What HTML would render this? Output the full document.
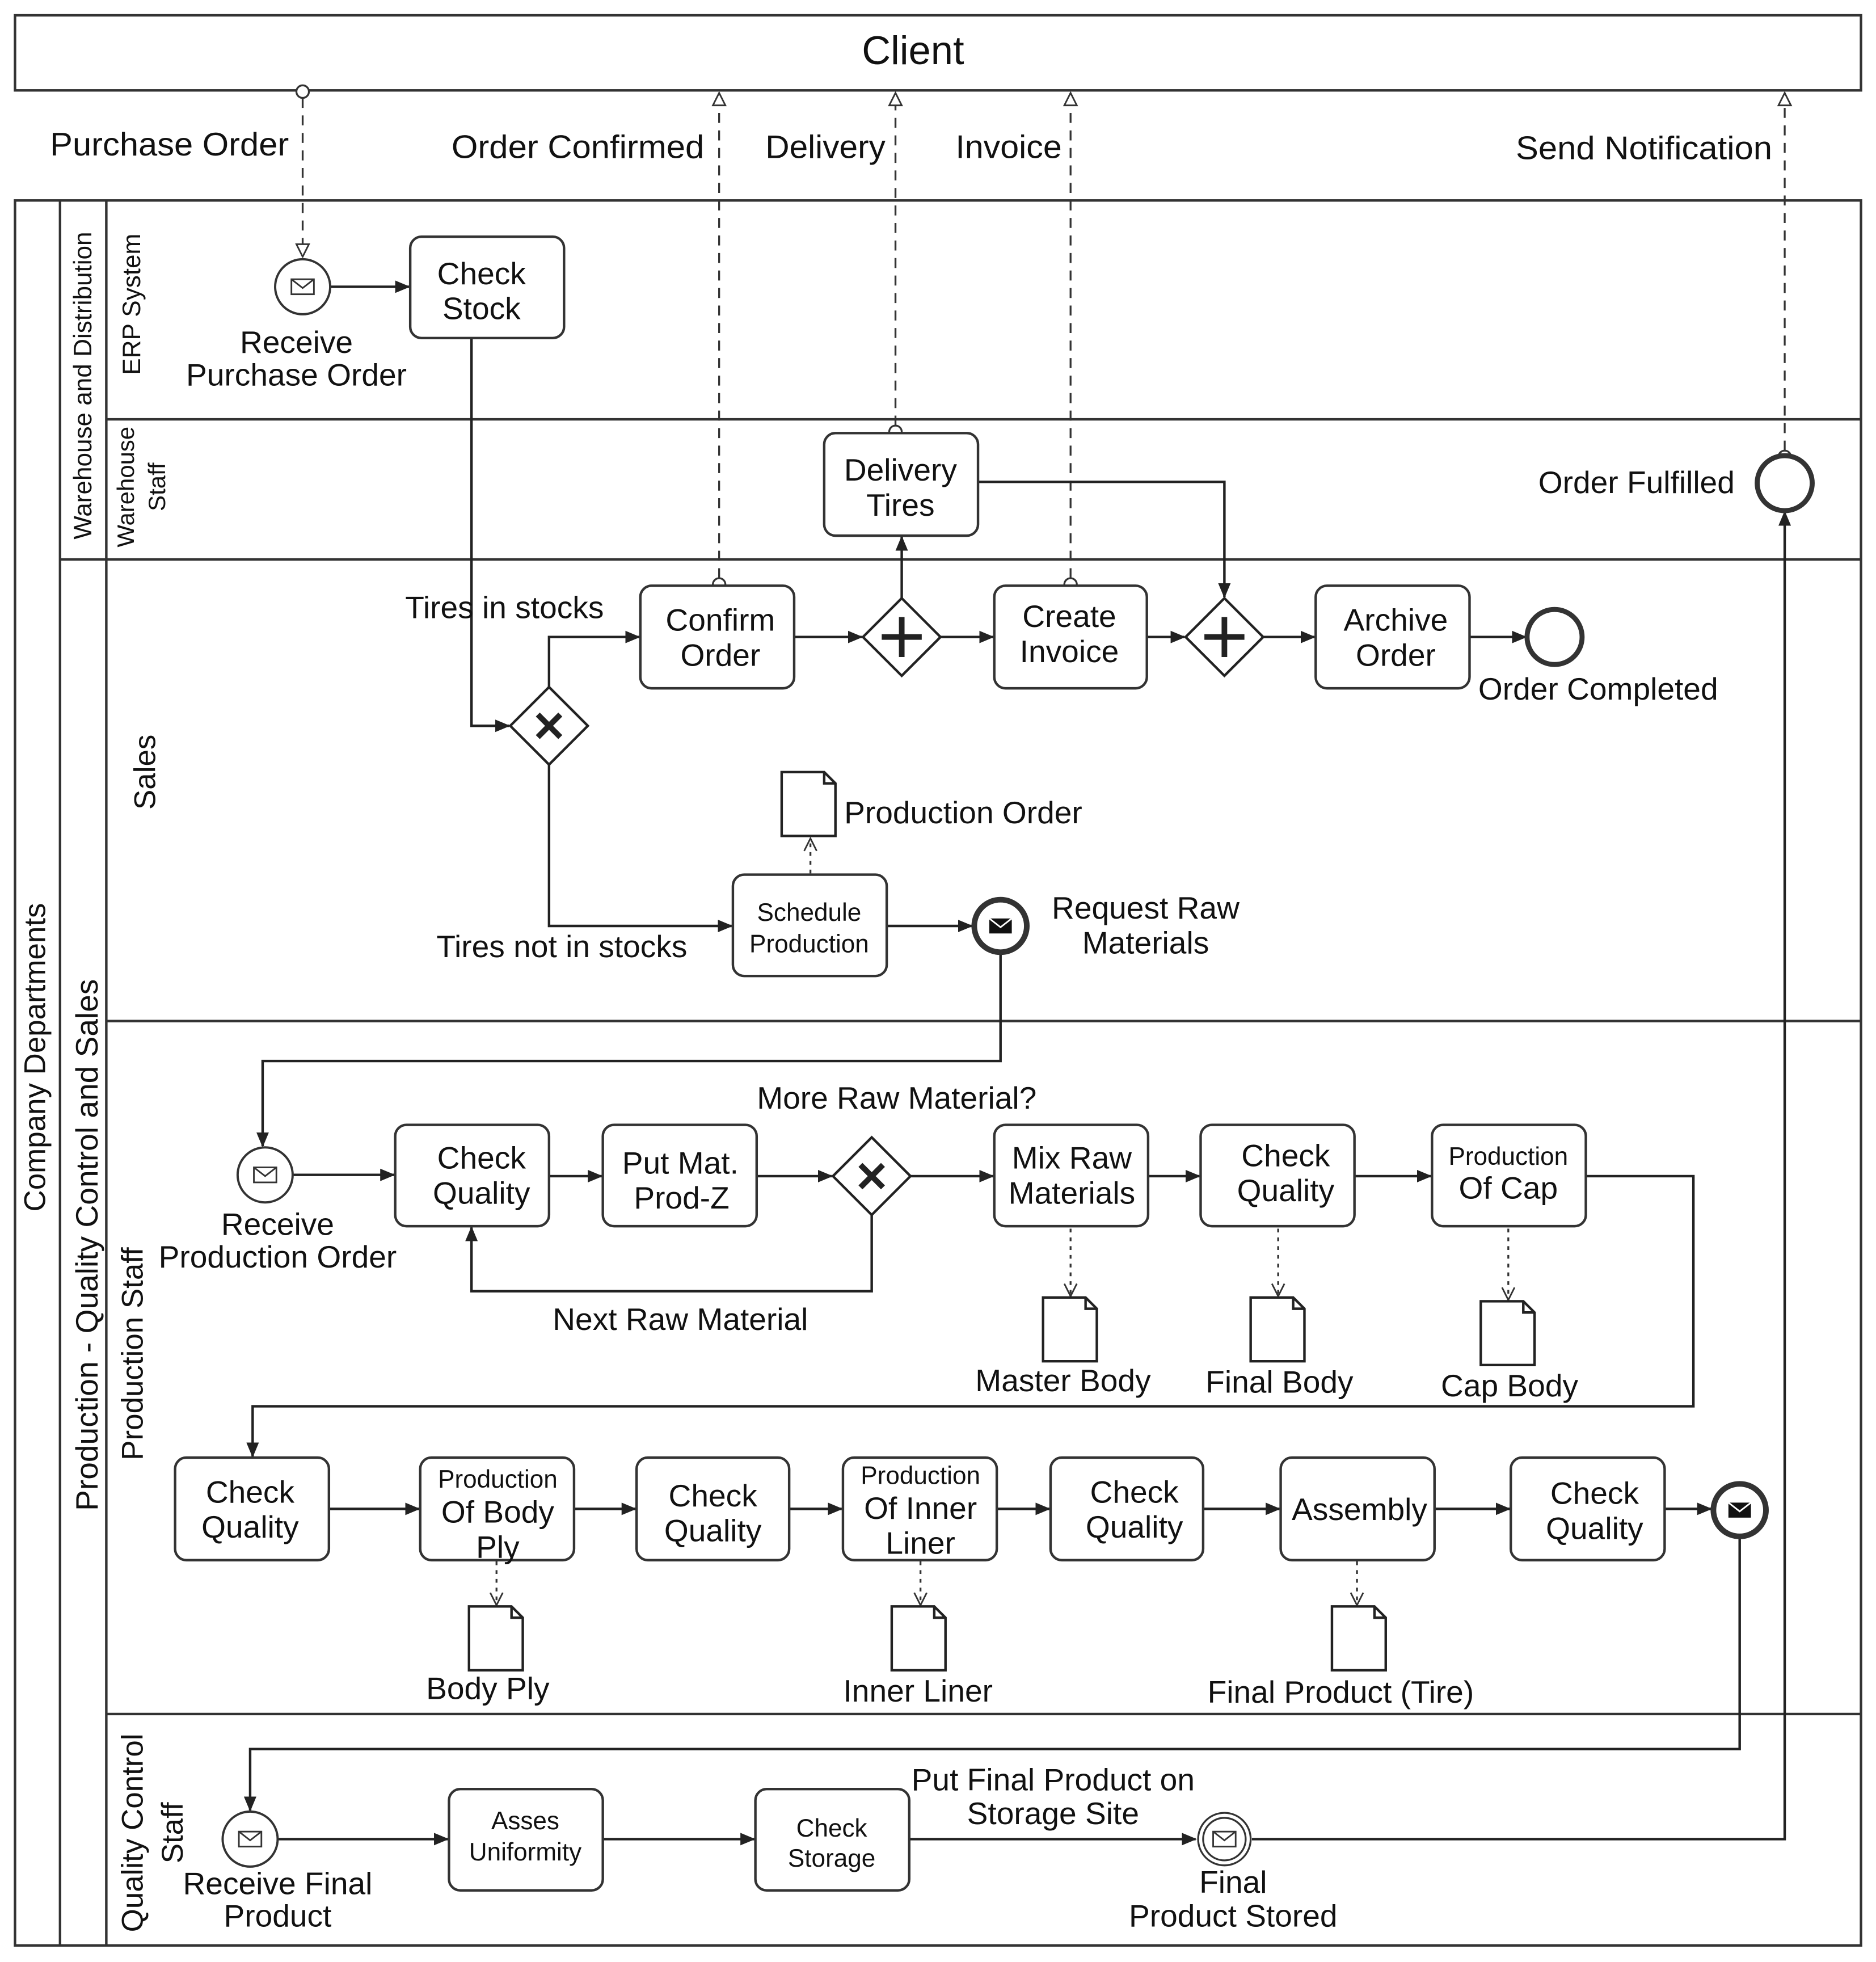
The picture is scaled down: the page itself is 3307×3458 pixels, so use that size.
<!DOCTYPE html>
<html><head><meta charset="utf-8"><style>
html,body{margin:0;padding:0;background:#fff}
svg{display:block}
text{font-family:"Liberation Sans",sans-serif;fill:#111}
</style></head><body>
<svg width="3307" height="3458" viewBox="0 0 1500 1568" xmlns="http://www.w3.org/2000/svg">
<defs>
<marker id="a" markerWidth="12" markerHeight="10" refX="11" refY="5" orient="auto" markerUnits="userSpaceOnUse"><path d="M0,0 L12,5 L0,10 z" fill="#222"/></marker>
<marker id="o" markerWidth="12" markerHeight="12" refX="11" refY="6" orient="auto" markerUnits="userSpaceOnUse"><path d="M1,1 L11,6 L1,11 z" fill="#fff" stroke="#333" stroke-width="1.3"/></marker>
<marker id="v" markerWidth="12" markerHeight="12" refX="11" refY="6" orient="auto" markerUnits="userSpaceOnUse"><path d="M1,1 L11,6 L1,11" fill="none" stroke="#333" stroke-width="1.3"/></marker>
<g id="env"><rect x="-9" y="-6" width="18" height="12" fill="none" stroke="#333" stroke-width="1.3"/><path d="M-9,-6 L0,1 L9,-6" fill="none" stroke="#333" stroke-width="1.3"/></g>
<g id="envb"><rect x="-9" y="-6" width="18" height="12" fill="#111"/><path d="M-9,-6 L0,1 L9,-6" fill="none" stroke="#fff" stroke-width="1.3"/></g>
<g id="doc"><path d="M0,0 L34,0 L43,9 L43,51 L0,51 z M34,0 L34,9 L43,9" fill="#fff" stroke="#222" stroke-width="2"/></g>
</defs>
<g fill="none" stroke="#333" stroke-width="2">
<rect x="12" y="12" width="1476" height="60"/>
<rect x="12" y="160" width="1476" height="1395"/>
<line x1="48" y1="160" x2="48" y2="1555"/>
<line x1="85" y1="160" x2="85" y2="1555"/>
<line x1="85" y1="335" x2="1488" y2="335"/>
<line x1="48" y1="447" x2="1488" y2="447"/>
<line x1="85" y1="816" x2="1488" y2="816"/>
<line x1="85" y1="1370" x2="1488" y2="1370"/>
</g>
<text x="730" y="51" font-size="32" text-anchor="middle">Client</text>
<g font-size="23" text-anchor="middle">
<text transform="translate(36,845) rotate(-90)" font-size="24">Company  Departments</text>
<text transform="translate(73,308) rotate(-90)" font-size="20">Warehouse  and  Distribution</text>
<text transform="translate(78,995) rotate(-90)" font-size="25">Production - Quality Control and Sales</text>
<text transform="translate(112,243) rotate(-90)" font-size="20">ERP System</text>
<text transform="translate(107,389) rotate(-90)" font-size="19">Warehouse</text>
<text transform="translate(132,389) rotate(-90)" font-size="19">Staff</text>
<text transform="translate(124,617) rotate(-90)" font-size="24">Sales</text>
<text transform="translate(114,1082) rotate(-90)" font-size="24">Production Staff</text>
<text transform="translate(114,1465) rotate(-90)" font-size="24">Quality Control</text>
<text transform="translate(146,1465) rotate(-90)" font-size="24">Staff</text>
</g>
<g fill="none" stroke="#333" stroke-width="1.5" stroke-dasharray="8,6">
<line x1="242" y1="78" x2="242" y2="205" marker-end="url(#o)"/>
<line x1="575" y1="462" x2="575" y2="74" marker-end="url(#o)"/>
<line x1="716" y1="340" x2="716" y2="74" marker-end="url(#o)"/>
<line x1="856" y1="462" x2="856" y2="74" marker-end="url(#o)"/>
<line x1="1427" y1="360" x2="1427" y2="74" marker-end="url(#o)"/>
</g>
<g fill="#fff" stroke="#333" stroke-width="1.5">
<circle cx="242" cy="73" r="5"/><circle cx="575" cy="467" r="5"/><circle cx="716" cy="345" r="5"/><circle cx="856" cy="467" r="5"/><circle cx="1427" cy="365" r="5"/>
</g>
<g font-size="26">
<text x="40" y="124" textLength="191" lengthAdjust="spacingAndGlyphs">Purchase Order</text>
<text x="361" y="126" textLength="202" lengthAdjust="spacingAndGlyphs">Order Confirmed</text>
<text x="612" y="126" textLength="96" lengthAdjust="spacingAndGlyphs">Delivery</text>
<text x="764" y="126" textLength="85" lengthAdjust="spacingAndGlyphs">Invoice</text>
<text x="1212" y="127" textLength="205" lengthAdjust="spacingAndGlyphs">Send Notification</text>
</g>
<g fill="none" stroke="#222" stroke-width="2">
<line x1="264" y1="229" x2="327" y2="229" marker-end="url(#a)"/>
<polyline points="377,270 377,580 407,580" marker-end="url(#a)"/>
<polyline points="439,549 439,509 511,509" marker-end="url(#a)"/>
<polyline points="439,611 439,740 585,740" marker-end="url(#a)"/>
<line x1="635" y1="509" x2="689" y2="509" marker-end="url(#a)"/>
<line x1="721" y1="478" x2="721" y2="429" marker-end="url(#a)"/>
<line x1="752" y1="509" x2="794" y2="509" marker-end="url(#a)"/>
<polyline points="782,385 979,385 979,477" marker-end="url(#a)"/>
<line x1="917" y1="509" x2="947" y2="509" marker-end="url(#a)"/>
<line x1="1010" y1="509" x2="1051" y2="509" marker-end="url(#a)"/>
<line x1="1175" y1="509" x2="1220" y2="509" marker-end="url(#a)"/>
<line x1="709" y1="740" x2="777" y2="740" marker-end="url(#a)"/>
<polyline points="800,762 800,848 210,848 210,916" marker-end="url(#a)"/>
<line x1="234" y1="939" x2="315" y2="939" marker-end="url(#a)"/>
<line x1="439" y1="940" x2="481" y2="940" marker-end="url(#a)"/>
<line x1="605" y1="940" x2="665" y2="940" marker-end="url(#a)"/>
<polyline points="697,971 697,1032 377,1032 377,981" marker-end="url(#a)"/>
<line x1="728" y1="940" x2="794" y2="940" marker-end="url(#a)"/>
<line x1="918" y1="940" x2="959" y2="940" marker-end="url(#a)"/>
<line x1="1083" y1="940" x2="1144" y2="940" marker-end="url(#a)"/>
<polyline points="1268,940 1354,940 1354,1124 202,1124 202,1164" marker-end="url(#a)"/>
<line x1="263" y1="1206" x2="335" y2="1206" marker-end="url(#a)"/>
<line x1="459" y1="1206" x2="508" y2="1206" marker-end="url(#a)"/>
<line x1="631" y1="1206" x2="673" y2="1206" marker-end="url(#a)"/>
<line x1="797" y1="1206" x2="839" y2="1206" marker-end="url(#a)"/>
<line x1="962" y1="1206" x2="1023" y2="1206" marker-end="url(#a)"/>
<line x1="1147" y1="1206" x2="1207" y2="1206" marker-end="url(#a)"/>
<line x1="1331" y1="1206" x2="1368" y2="1206" marker-end="url(#a)"/>
<polyline points="1391,1229 1391,1398 200,1398 200,1447" marker-end="url(#a)"/>
<line x1="222" y1="1470" x2="358" y2="1470" marker-end="url(#a)"/>
<line x1="482" y1="1470" x2="603" y2="1470" marker-end="url(#a)"/>
<line x1="727" y1="1470" x2="956" y2="1470" marker-end="url(#a)"/>
<polyline points="1001,1470 1427,1470 1427,409" marker-end="url(#a)"/>
</g>
<g fill="none" stroke="#333" stroke-width="1.5" stroke-dasharray="3,4">
<line x1="648" y1="698" x2="648" y2="670" marker-end="url(#v)"/>
<line x1="856" y1="982" x2="856" y2="1036" marker-end="url(#v)"/>
<line x1="1022" y1="982" x2="1022" y2="1036" marker-end="url(#v)"/>
<line x1="1206" y1="982" x2="1206" y2="1039" marker-end="url(#v)"/>
<line x1="397" y1="1248" x2="397" y2="1283" marker-end="url(#v)"/>
<line x1="736" y1="1248" x2="736" y2="1283" marker-end="url(#v)"/>
<line x1="1085" y1="1248" x2="1085" y2="1283" marker-end="url(#v)"/>
</g>
<g fill="#fff" stroke="#333" stroke-width="2">
<rect x="328" y="189" width="123" height="81" rx="9"/>
<rect x="659" y="346" width="123" height="82" rx="9"/>
<rect x="512" y="468" width="123" height="82" rx="9"/>
<rect x="795" y="468" width="122" height="82" rx="9"/>
<rect x="1052" y="468" width="123" height="82" rx="9"/>
<rect x="586" y="699" width="123" height="81" rx="9"/>
<rect x="316" y="899" width="123" height="81" rx="9"/>
<rect x="482" y="899" width="123" height="81" rx="9"/>
<rect x="795" y="899" width="123" height="81" rx="9"/>
<rect x="960" y="899" width="123" height="81" rx="9"/>
<rect x="1145" y="899" width="123" height="81" rx="9"/>
<rect x="140" y="1165" width="123" height="82" rx="9"/>
<rect x="336" y="1165" width="123" height="82" rx="9"/>
<rect x="509" y="1165" width="122" height="82" rx="9"/>
<rect x="674" y="1165" width="123" height="82" rx="9"/>
<rect x="840" y="1165" width="122" height="82" rx="9"/>
<rect x="1024" y="1165" width="123" height="82" rx="9"/>
<rect x="1208" y="1165" width="123" height="82" rx="9"/>
<rect x="359" y="1430" width="123" height="81" rx="9"/>
<rect x="604" y="1430" width="123" height="81" rx="9"/>
</g>
<g fill="#fff" stroke="#222" stroke-width="2">
<path d="M439,549 L470,580 L439,611 L408,580 z"/>
<path d="M721,478 L752,509 L721,540 L690,509 z"/>
<path d="M979,478 L1010,509 L979,540 L948,509 z"/>
<path d="M697,909 L728,940 L697,971 L666,940 z"/>
</g>
<g stroke="#222" stroke-width="4.5" fill="none">
<path d="M430,571 L448,589 M448,571 L430,589"/>
<path d="M688,931 L706,949 M706,931 L688,949"/>
<path d="M721,493 L721,525 M705,509 L737,509"/>
<path d="M979,493 L979,525 M963,509 L995,509"/>
</g>
<g fill="#fff" stroke="#333">
<circle cx="242" cy="229" r="22" stroke-width="1.8"/>
<circle cx="212" cy="939" r="22" stroke-width="1.8"/>
<circle cx="200" cy="1470" r="22" stroke-width="1.8"/>
<circle cx="1243" cy="509" r="22" stroke-width="4"/>
<circle cx="1427" cy="386" r="22" stroke-width="4"/>
<circle cx="800" cy="740" r="21" stroke-width="4.5"/>
<circle cx="1391" cy="1207" r="21" stroke-width="4.5"/>
<circle cx="979" cy="1470" r="21" stroke-width="1.5"/>
<circle cx="979" cy="1470" r="17" stroke-width="1.5"/>
</g>
<use href="#env" x="242" y="229"/><use href="#env" x="212" y="939"/><use href="#env" x="200" y="1470"/><use href="#env" x="979" y="1470"/>
<use href="#envb" x="800" y="740"/><use href="#envb" x="1391" y="1207"/>
<use href="#doc" x="625" y="617"/><use href="#doc" x="834" y="1037"/><use href="#doc" x="1000" y="1037"/><use href="#doc" x="1184" y="1040"/>
<use href="#doc" x="375" y="1284"/><use href="#doc" x="713" y="1284"/><use href="#doc" x="1065" y="1284"/>
<g font-size="25" text-anchor="middle">
<text x="385" y="227">Check</text><text x="385" y="255">Stock</text>
<text x="720" y="384">Delivery</text><text x="720" y="412">Tires</text>
<text x="576" y="504">Confirm</text><text x="576" y="532">Order</text>
<text x="855" y="501">Create</text><text x="855" y="529">Invoice</text>
<text x="1116" y="504">Archive</text><text x="1116" y="532">Order</text>
<text x="385" y="934">Check</text><text x="385" y="962">Quality</text>
<text x="544" y="938">Put Mat.</text><text x="545" y="966">Prod-Z</text>
<text x="857" y="934">Mix Raw</text><text x="857" y="962">Materials</text>
<text x="1028" y="932">Check</text><text x="1028" y="960">Quality</text>
<text x="1206" y="958">Of Cap</text>
<text x="200" y="1201">Check</text><text x="200" y="1229">Quality</text>
<text x="398" y="1217">Of Body</text><text x="398" y="1245">Ply</text>
<text x="570" y="1204">Check</text><text x="570" y="1232">Quality</text>
<text x="736" y="1214">Of Inner</text><text x="736" y="1242">Liner</text>
<text x="907" y="1201">Check</text><text x="907" y="1229">Quality</text>
<text x="1087" y="1215">Assembly</text>
<text x="1275" y="1202">Check</text><text x="1275" y="1230">Quality</text>
</g>
<g font-size="20" text-anchor="middle">
<text x="647" y="736">Schedule</text><text x="647" y="761">Production</text>
<text x="1206" y="931">Production</text>
<text x="398" y="1189">Production</text>
<text x="736" y="1186">Production</text>
<text x="420" y="1462">Asses</text><text x="420" y="1487">Uniformity</text>
<text x="665" y="1468">Check</text><text x="665" y="1492">Storage</text>
</g>
<g font-size="25">
<text x="237" y="282" text-anchor="middle">Receive</text>
<text x="237" y="308" text-anchor="middle">Purchase Order</text>
<text x="1387" y="394" text-anchor="end">Order Fulfilled</text>
<text x="324" y="494">Tires in stocks</text>
<text x="1182" y="559">Order Completed</text>
<text x="675" y="658">Production Order</text>
<text x="349" y="765">Tires not in stocks</text>
<text x="916" y="734" text-anchor="middle">Request Raw</text>
<text x="916" y="762" text-anchor="middle">Materials</text>
<text x="717" y="886" text-anchor="middle">More Raw Material?</text>
<text x="222" y="987" text-anchor="middle">Receive</text>
<text x="222" y="1013" text-anchor="middle">Production Order</text>
<text x="544" y="1063" text-anchor="middle">Next Raw Material</text>
<text x="850" y="1112" text-anchor="middle">Master Body</text>
<text x="1023" y="1113" text-anchor="middle">Final Body</text>
<text x="1207" y="1116" text-anchor="middle">Cap Body</text>
<text x="390" y="1358" text-anchor="middle">Body Ply</text>
<text x="734" y="1360" text-anchor="middle">Inner Liner</text>
<text x="1072" y="1361" text-anchor="middle">Final Product (Tire)</text>
<text x="842" y="1431" text-anchor="middle">Put Final Product on</text>
<text x="842" y="1458" text-anchor="middle">Storage Site</text>
<text x="222" y="1514" text-anchor="middle">Receive Final</text>
<text x="222" y="1540" text-anchor="middle">Product</text>
<text x="986" y="1513" text-anchor="middle">Final</text>
<text x="986" y="1540" text-anchor="middle">Product Stored</text>
</g>
</svg>
</body></html>
